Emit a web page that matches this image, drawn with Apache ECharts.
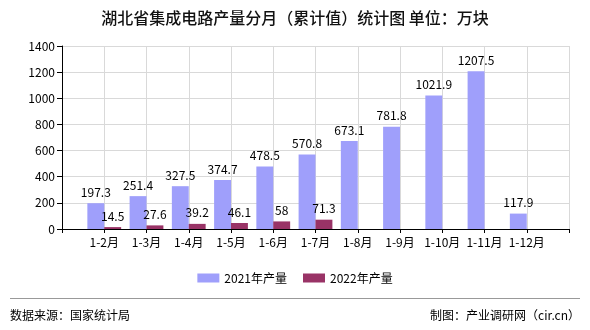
<!DOCTYPE html>
<html>
<head>
<meta charset="utf-8">
<script src="https://cdn.jsdelivr.net/npm/echarts@6/dist/echarts.min.js"></script>
<style>
html,body{margin:0;padding:0;background:#fff;}
#chart{width:590px;height:330px;}
</style>
</head>
<body>
<div id="chart"></div>
<script>
var categories = ['1-2月','1-3月','1-4月','1-5月','1-6月','1-7月','1-8月','1-9月','1-10月','1-11月','1-12月'];
var values2021 = [197.3, 251.4, 327.5, 374.7, 478.5, 570.8, 673.1, 781.8, 1021.9, 1207.5, 117.9];
var values2022 = [14.5, 27.6, 39.2, 46.1, 58, 71.3, '-', '-', '-', '-', '-'];
var seriesNames = ['2021年产量', '2022年产量'];
var yTicks = {min: 0, max: 1400, interval: 200};

var font = '"Noto Sans CJK SC", "Noto Sans", sans-serif';
var cats = [''].concat(categories, ['']);
var d1 = ['-'].concat(values2021, ['-']);
var d2 = ['-'].concat(values2022, ['-']);

var chart = echarts.init(document.getElementById('chart'), null, {renderer: 'canvas'});
chart.setOption({
  animation: false,
  backgroundColor: '#fff',
  title: {
    text: '湖北省集成电路产量分月（累计值）统计图 单位：万块',
    left: 'center', top: 5,
    textStyle: {fontSize: 16, fontWeight: 500, color: '#111', fontFamily: font}
  },
  legend: {
    data: seriesNames,
    left: 'center', top: 267,
    itemWidth: 22, itemHeight: 9, itemGap: 16,
    icon: 'rect',
    textStyle: {fontSize: 12, color: '#000', fontFamily: font}
  },
  grid: {left: 62, right: 21, top: 46, bottom: 101, containLabel: false},
  xAxis: {
    type: 'category',
    data: cats,
    boundaryGap: false,
    axisLine: {lineStyle: {color: '#000', width: 1}},
    axisTick: {show: true, length: 4, lineStyle: {color: '#000'}},
    axisLabel: {color: '#000', fontSize: 12, margin: 7, interval: 0, fontFamily: font},
    splitLine: {show: true, lineStyle: {color: '#d9d9d9'}}
  },
  yAxis: {
    type: 'value',
    min: yTicks.min, max: yTicks.max, interval: yTicks.interval,
    axisLine: {show: true, lineStyle: {color: '#000', width: 1}},
    axisTick: {show: true, length: 5, lineStyle: {color: '#000'}},
    axisLabel: {color: '#000', fontSize: 12, margin: 7, fontFamily: font, formatter: function (v) { return String(v); }},
    splitLine: {show: true, lineStyle: {color: '#d9d9d9'}}
  },
  series: [
    {
      name: seriesNames[0], type: 'bar', data: d1,
      barGap: '0%', barCategoryGap: '20%',
      itemStyle: {color: '#9f9ffb'},
      label: {show: true, position: 'top', color: '#000', fontSize: 12, fontFamily: font}
    },
    {
      name: seriesNames[1], type: 'bar', data: d2,
      barGap: '0%', barCategoryGap: '20%',
      itemStyle: {color: '#993366'},
      label: {show: true, position: 'top', color: '#000', fontSize: 12, fontFamily: font}
    }
  ],
  graphic: [
    {type: 'line', shape: {x1: 10, y1: 298.5, x2: 580, y2: 298.5}, style: {stroke: '#999', lineWidth: 1}},
    {type: 'text', left: 10, top: 309, style: {text: '数据来源：国家统计局', fill: '#000', font: '12px ' + font}},
    {type: 'text', right: 10, top: 309, style: {text: '制图：产业调研网（cir.cn）', fill: '#000', font: '12px ' + font}}
  ]
});
</script>
</body>
</html>
